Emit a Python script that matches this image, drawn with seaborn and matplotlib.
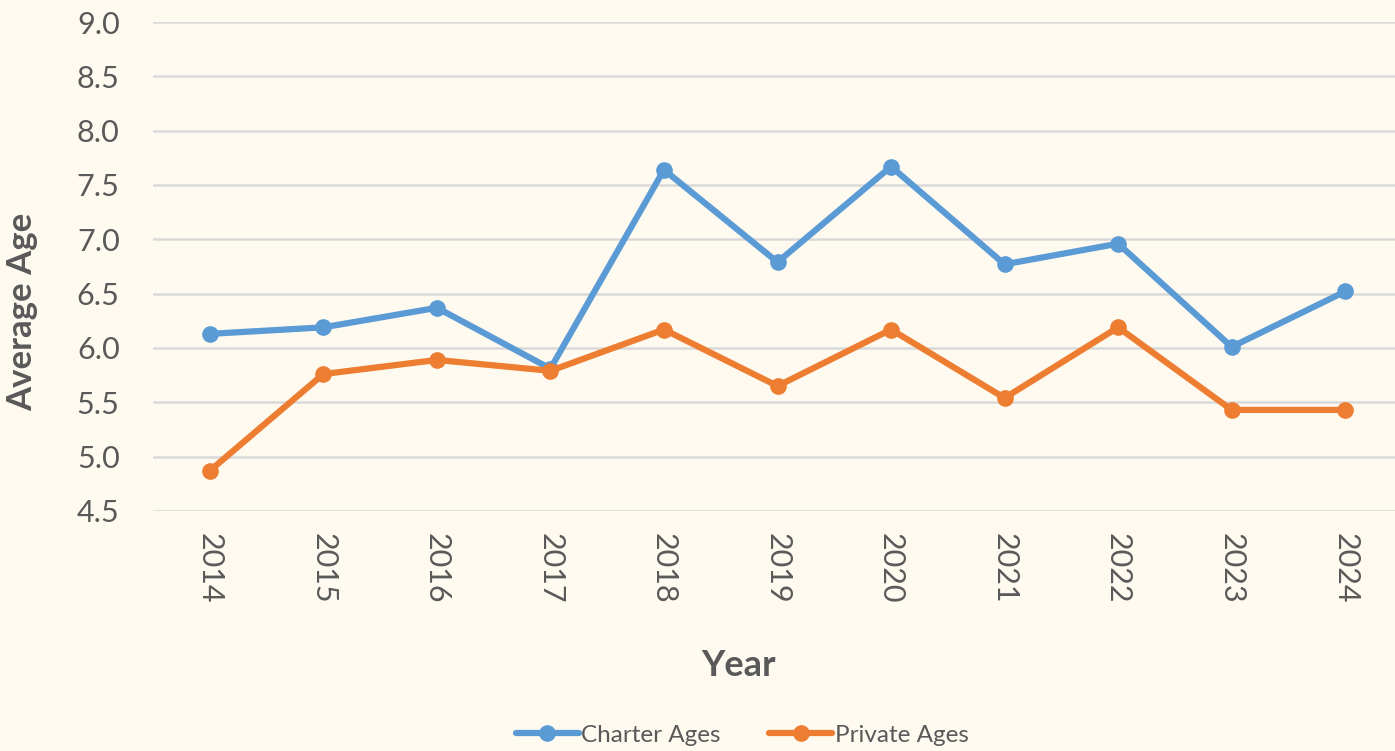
import matplotlib
matplotlib.use("Agg")
import matplotlib.pyplot as plt
import seaborn as sns
import pandas as pd

years = ["2014", "2015", "2016", "2017", "2018", "2019", "2020", "2021", "2022", "2023", "2024"]
charter_ages = [6.13, 6.19, 6.37, 5.81, 7.64, 6.79, 7.67, 6.77, 6.96, 6.01, 6.52]
private_ages = [4.87, 5.76, 5.89, 5.79, 6.17, 5.65, 6.17, 5.54, 6.19, 5.43, 5.43]
series_names = ["Charter Ages", "Private Ages"]
colors = ["#5B9BD5", "#ED7D31"]

df = pd.DataFrame({
    "Year": years * 2,
    "Age": charter_ages + private_ages,
    "Series": [series_names[0]] * len(years) + [series_names[1]] * len(years),
})

sns.set_theme(style="white")
plt.rcParams["font.family"] = ["Lato", "DejaVu Sans"]

bg = "#FEFAF0"
txt = "#595959"
fig = plt.figure(figsize=(13.95, 7.51), dpi=100, facecolor=bg)
ax = fig.add_axes([0.1097, 0.3196, 0.8953, 0.6511])
ax.set_facecolor(bg)

sns.lineplot(data=df, x="Year", y="Age", hue="Series", palette=colors,
             marker="o", markersize=12, markeredgewidth=0, linewidth=4.5,
             sort=False, ax=ax)

ax.set_ylim(4.5, 9.0)
ax.set_yticks([4.5, 5.0, 5.5, 6.0, 6.5, 7.0, 7.5, 8.0, 8.5, 9.0])
ax.set_yticklabels([f"{v:.1f}" for v in ax.get_yticks()])
ax.set_xlim(-0.5, len(years) - 0.5)
ax.grid(axis="y", color="#D9D9D9", linewidth=1.8)
ax.set_axisbelow(True)
for s in ax.spines.values():
    s.set_visible(False)
ax.tick_params(axis="both", length=0, labelsize=22, labelcolor=txt)
ax.tick_params(axis="y", pad=24)
ax.tick_params(axis="x", pad=16)
for lbl in ax.get_xticklabels():
    lbl.set_rotation(270)

ax.set_xlabel("Year", fontsize=26, fontweight="bold", color=txt)
ax.set_ylabel("Average Age", fontsize=25, fontweight="bold", color=txt)
ax.xaxis.set_label_coords(0.469, -0.283)
ax.yaxis.set_label_coords(-0.092, 0.407)

handles, labels = ax.get_legend_handles_labels()
ax.legend(handles=handles, labels=labels, loc="center",
          bbox_to_anchor=(0.532, 0.021), bbox_transform=fig.transFigure,
          ncol=2, frameon=False, fontsize=17.5, labelcolor=txt,
          handlelength=2.6, handletextpad=0.1, columnspacing=2.0)

fig.savefig("out.png", dpi=100, facecolor=bg)
